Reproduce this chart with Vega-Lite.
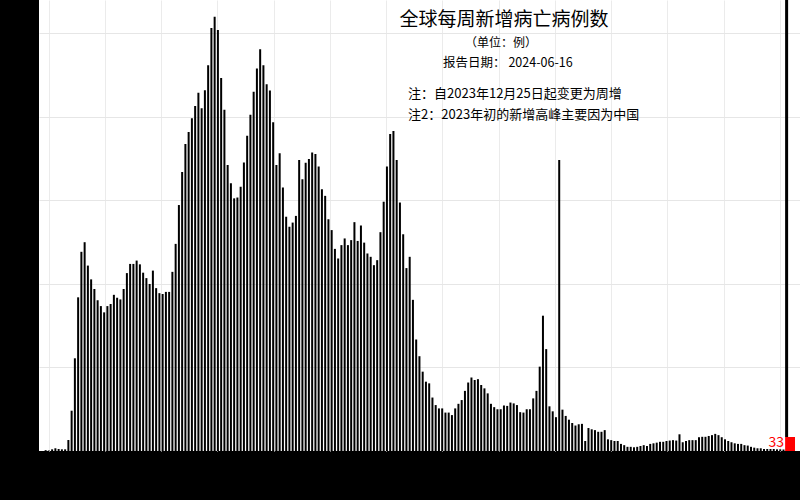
{
  "$schema": "https://vega.github.io/schema/vega-lite/v6.json",
  "width": 761,
  "height": 451,
  "padding": {"left": 39, "top": 0, "right": 0, "bottom": 49},
  "autosize": {"type": "none"},
  "background": "black",
  "config": {"view": {"fill": "white", "stroke": null}, "font": "Noto Sans CJK SC"},
  "datasets": {
    "weekly": [
      {"week":0,"deaths":200},{"week":1,"deaths":120},{"week":2,"deaths":400},{"week":3,"deaths":650},{"week":4,"deaths":480},{"week":5,"deaths":400},{"week":6,"deaths":400},{"week":7,"deaths":2630},{"week":8,"deaths":9650},{"week":9,"deaths":22200},
      {"week":10,"deaths":36800},{"week":11,"deaths":47700},{"week":12,"deaths":50000},{"week":13,"deaths":44400},{"week":14,"deaths":41100},{"week":15,"deaths":38800},{"week":16,"deaths":36100},{"week":17,"deaths":34700},{"week":18,"deaths":33200},{"week":19,"deaths":34700},
      {"week":20,"deaths":35200},{"week":21,"deaths":37400},{"week":22,"deaths":36700},{"week":23,"deaths":36300},{"week":24,"deaths":38800},{"week":25,"deaths":42600},{"week":26,"deaths":44800},{"week":27,"deaths":44800},{"week":28,"deaths":45600},{"week":29,"deaths":44700},
      {"week":30,"deaths":42700},{"week":31,"deaths":41400},{"week":32,"deaths":40000},{"week":33,"deaths":43200},{"week":34,"deaths":39000},{"week":35,"deaths":37800},{"week":36,"deaths":37600},{"week":37,"deaths":38100},{"week":38,"deaths":38100},{"week":39,"deaths":42900},
      {"week":40,"deaths":49600},{"week":41,"deaths":58900},{"week":42,"deaths":66800},{"week":43,"deaths":73500},{"week":44,"deaths":76400},{"week":45,"deaths":79700},{"week":46,"deaths":82600},{"week":47,"deaths":85800},{"week":48,"deaths":82100},{"week":49,"deaths":86400},
      {"week":50,"deaths":92400},{"week":51,"deaths":101300},{"week":52,"deaths":104000},{"week":53,"deaths":100800},{"week":54,"deaths":89300},{"week":55,"deaths":81700},{"week":56,"deaths":68500},{"week":57,"deaths":64100},{"week":58,"deaths":60500},{"week":59,"deaths":60700},
      {"week":60,"deaths":63300},{"week":61,"deaths":69100},{"week":62,"deaths":75500},{"week":63,"deaths":80500},{"week":64,"deaths":86000},{"week":65,"deaths":91600},{"week":66,"deaths":96200},{"week":67,"deaths":92400},{"week":68,"deaths":87800},{"week":69,"deaths":86300},
      {"week":70,"deaths":78700},{"week":71,"deaths":68500},{"week":72,"deaths":71300},{"week":73,"deaths":63100},{"week":74,"deaths":56100},{"week":75,"deaths":53700},{"week":76,"deaths":54700},{"week":77,"deaths":56300},{"week":78,"deaths":69700},{"week":79,"deaths":65100},
      {"week":80,"deaths":69000},{"week":81,"deaths":69900},{"week":82,"deaths":71500},{"week":83,"deaths":71100},{"week":84,"deaths":68100},{"week":85,"deaths":62700},{"week":86,"deaths":61100},{"week":87,"deaths":55500},{"week":88,"deaths":52900},{"week":89,"deaths":48400},
      {"week":90,"deaths":46100},{"week":91,"deaths":49300},{"week":92,"deaths":50900},{"week":93,"deaths":49300},{"week":94,"deaths":50500},{"week":95,"deaths":54800},{"week":96,"deaths":50300},{"week":97,"deaths":54000},{"week":98,"deaths":49900},{"week":99,"deaths":47300},
      {"week":100,"deaths":46500},{"week":101,"deaths":44500},{"week":102,"deaths":45700},{"week":103,"deaths":52400},{"week":104,"deaths":59700},{"week":105,"deaths":68100},{"week":106,"deaths":75900},{"week":107,"deaths":76600},{"week":108,"deaths":69700},{"week":109,"deaths":59500},
      {"week":110,"deaths":51900},{"week":111,"deaths":43800},{"week":112,"deaths":46500},{"week":113,"deaths":36200},{"week":114,"deaths":26700},{"week":115,"deaths":22700},{"week":116,"deaths":19000},{"week":117,"deaths":16600},{"week":118,"deaths":16200},{"week":119,"deaths":12800},
      {"week":120,"deaths":11000},{"week":121,"deaths":10200},{"week":122,"deaths":10200},{"week":123,"deaths":9200},{"week":124,"deaths":9200},{"week":125,"deaths":8600},{"week":126,"deaths":10200},{"week":127,"deaths":11300},{"week":128,"deaths":12200},{"week":129,"deaths":14400},
      {"week":130,"deaths":16400},{"week":131,"deaths":17600},{"week":132,"deaths":17000},{"week":133,"deaths":17200},{"week":134,"deaths":15800},{"week":135,"deaths":15000},{"week":136,"deaths":13800},{"week":137,"deaths":11300},{"week":138,"deaths":10500},{"week":139,"deaths":10000},
      {"week":140,"deaths":10000},{"week":141,"deaths":10900},{"week":142,"deaths":10800},{"week":143,"deaths":11600},{"week":144,"deaths":11400},{"week":145,"deaths":11000},{"week":146,"deaths":9300},{"week":147,"deaths":9200},{"week":148,"deaths":10000},{"week":149,"deaths":10000},
      {"week":150,"deaths":12600},{"week":151,"deaths":14400},{"week":152,"deaths":20200},{"week":153,"deaths":32400},{"week":154,"deaths":24400},{"week":155,"deaths":10700},{"week":156,"deaths":9500},{"week":157,"deaths":8100},{"week":158,"deaths":69700},{"week":159,"deaths":9900},
      {"week":160,"deaths":8400},{"week":161,"deaths":7500},{"week":162,"deaths":6700},{"week":163,"deaths":6100},{"week":164,"deaths":6400},{"week":165,"deaths":6500},{"week":166,"deaths":2400},{"week":167,"deaths":5500},{"week":168,"deaths":5200},{"week":169,"deaths":5000},
      {"week":170,"deaths":4600},{"week":171,"deaths":4600},{"week":172,"deaths":5000},{"week":173,"deaths":2800},{"week":174,"deaths":2600},{"week":175,"deaths":2400},{"week":176,"deaths":2400},{"week":177,"deaths":1700},{"week":178,"deaths":1400},{"week":179,"deaths":1000},
      {"week":180,"deaths":1000},{"week":181,"deaths":890},{"week":182,"deaths":1000},{"week":183,"deaths":1200},{"week":184,"deaths":1400},{"week":185,"deaths":1200},{"week":186,"deaths":1700},{"week":187,"deaths":1840},{"week":188,"deaths":2000},{"week":189,"deaths":2200},
      {"week":190,"deaths":2200},{"week":191,"deaths":2400},{"week":192,"deaths":2500},{"week":193,"deaths":2600},{"week":194,"deaths":2500},{"week":195,"deaths":4000},{"week":196,"deaths":2100},{"week":197,"deaths":2400},{"week":198,"deaths":2600},{"week":199,"deaths":2600},
      {"week":200,"deaths":2600},{"week":201,"deaths":3300},{"week":202,"deaths":3400},{"week":203,"deaths":3400},{"week":204,"deaths":3600},{"week":205,"deaths":3800},{"week":206,"deaths":4100},{"week":207,"deaths":3800},{"week":208,"deaths":3300},{"week":209,"deaths":2800},
      {"week":210,"deaths":2400},{"week":211,"deaths":2100},{"week":212,"deaths":1840},{"week":213,"deaths":1700},{"week":214,"deaths":1700},{"week":215,"deaths":1400},{"week":216,"deaths":1300},{"week":217,"deaths":1000},{"week":218,"deaths":800},{"week":219,"deaths":650},
      {"week":220,"deaths":650},{"week":221,"deaths":480},{"week":222,"deaths":480},{"week":223,"deaths":480},{"week":224,"deaths":480},{"week":225,"deaths":400},{"week":226,"deaths":400},{"week":227,"deaths":360}
    ]
  },
  "layer": [
    {
      "data": {"name": "weekly"},
      "mark": {"type": "bar", "color": "black", "size": 2},
      "encoding": {
        "x": {
          "field": "week", "type": "quantitative",
          "scale": {"domain": [-0.5, 230.54], "nice": false, "zero": false},
          "axis": {"title": null, "labels": false, "ticks": false, "domain": false, "grid": true, "gridColor": "#ebebeb", "gridWidth": 1,
                   "values": [0.95,5.28,9.6,13.93,18.25,22.58,26.91,31.23,35.56,39.88,44.21,48.54,52.86,57.19,61.51,65.84,70.17,74.49,78.82,83.14,87.47,91.8,96.12,100.45,104.77,109.1,113.43,117.75,122.08,126.4,130.73,135.06,139.38,143.71,148.03,152.36,156.69,161.01,165.34,169.66,173.99,178.32,182.64,186.97,191.29,195.62,199.95,204.27,208.6,212.92,217.25,221.58,225.9]}
        },
        "y": {
          "field": "deaths", "type": "quantitative",
          "scale": {"domain": [0, 108000], "nice": false},
          "axis": {"title": null, "labels": false, "ticks": false, "domain": false, "grid": true, "gridColor": "#e6e6e6", "values": [20000, 40000, 60000, 80000, 100000]}
        }
      }
    },
    {
      "data": {"values": [{}]},
      "mark": {"type": "rule", "color": "black", "strokeWidth": 3},
      "encoding": {"x": {"datum": 227.96}, "y": {"datum": 3350}, "y2": {"datum": 108000}}
    },
    {
      "data": {"values": [{}]},
      "mark": {"type": "rect", "color": "#ff0000", "clip": false},
      "encoding": {"x": {"datum": 227.5}, "x2": {"datum": 230.54}, "y": {"datum": 0}, "y2": {"datum": 3350}}
    },
    {
      "data": {"values": [{}]},
      "mark": {"type": "text", "color": "#ff0000", "fontSize": 14, "align": "right", "baseline": "middle", "font": "Noto Sans CJK SC"},
      "encoding": {"x": {"datum": 227.2}, "y": {"datum": 1916}, "text": {"value": "33"}}
    },
    {
      "data": {"values": [{}]},
      "mark": {"type": "text", "color": "black", "fontSize": 19, "align": "center", "baseline": "middle", "font": "Noto Sans CJK SC"},
      "encoding": {"x": {"datum": 141.0}, "y": {"datum": 103200}, "text": {"value": "全球每周新增病亡病例数"}}
    },
    {
      "data": {"values": [{}]},
      "mark": {"type": "text", "color": "black", "fontSize": 12, "align": "center", "baseline": "middle", "font": "Noto Sans CJK SC"},
      "encoding": {"x": {"datum": 140.06}, "y": {"datum": 97820}, "text": {"value": "（单位：例）"}}
    },
    {
      "data": {"values": [{}]},
      "mark": {"type": "text", "color": "black", "fontSize": 12.5, "align": "center", "baseline": "middle", "font": "Noto Sans CJK SC"},
      "encoding": {"x": {"datum": 142.2}, "y": {"datum": 92900}, "text": {"value": "报告日期： 2024-06-16"}}
    },
    {
      "data": {"values": [{}]},
      "mark": {"type": "text", "color": "black", "fontSize": 13, "align": "left", "baseline": "middle", "font": "Noto Sans CJK SC"},
      "encoding": {"x": {"datum": 111.5}, "y": {"datum": 85490}, "text": {"value": "注：自2023年12月25日起变更为周增"}}
    },
    {
      "data": {"values": [{}]},
      "mark": {"type": "text", "color": "black", "fontSize": 13, "align": "left", "baseline": "middle", "font": "Noto Sans CJK SC"},
      "encoding": {"x": {"datum": 111.5}, "y": {"datum": 80460}, "text": {"value": "注2：2023年初的新增高峰主要因为中国"}}
    }
  ]
}
